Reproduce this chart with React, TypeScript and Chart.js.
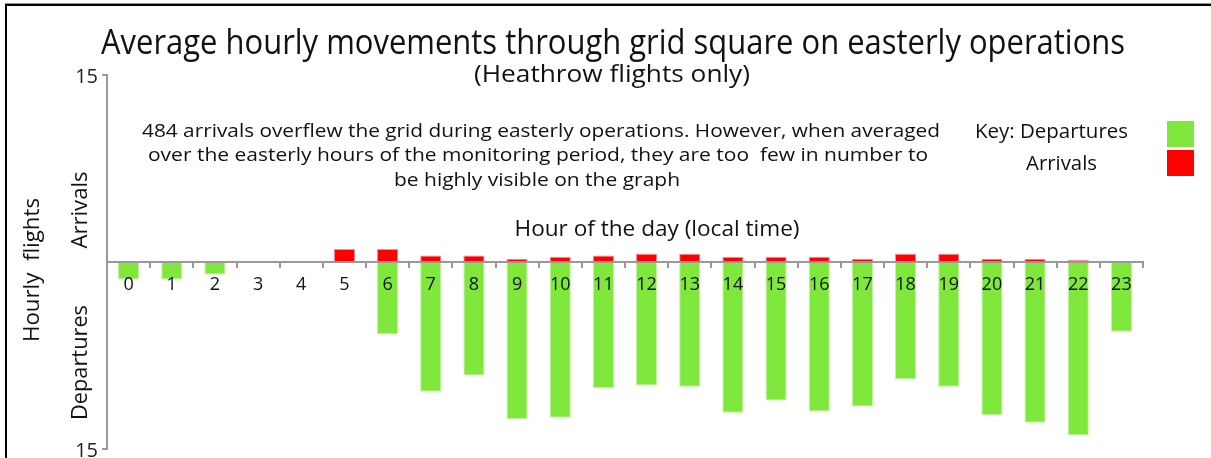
import React, { useEffect, useRef } from 'react';
import { Chart, registerables } from 'chart.js';

Chart.register(...registerables);

const hours = ['0','1','2','3','4','5','6','7','8','9','10','11','12','13','14','15','16','17','18','19','20','21','22','23'];
const departures = [1.4, 1.4, 1.0, 0, 0, 0, 5.8, 10.4, 9.1, 12.6, 12.5, 10.1, 9.9, 10.0, 12.1, 11.1, 12.0, 11.6, 9.4, 10.0, 12.3, 12.9, 13.9, 5.6];
const arrivals = [0, 0, 0, 0, 0, 1.05, 1.05, 0.53, 0.53, 0.27, 0.43, 0.53, 0.67, 0.67, 0.43, 0.43, 0.43, 0.27, 0.67, 0.67, 0.27, 0.27, 0.16, 0];
const yTickValues = [-15, 15];

const titleText = 'Average hourly movements through grid square on easterly operations';
const subtitleText = '(Heathrow flights only)';
const noteLines = [
  '484 arrivals overflew the grid during easterly operations. However, when averaged',
  'over the easterly hours of the monitoring period, they are too  few in number to',
  'be highly visible on the graph',
];
const xAxisTitle = 'Hour of the day (local time)';
const yAxisTitle = 'Hourly  flights';
const upperLabel = 'Arrivals';
const lowerLabel = 'Departures';
const keyDepartures = 'Key: Departures';
const keyArrivals = 'Arrivals';

const GREEN = '#80E83C';
const RED = '#FF0000';
const FONT = '"Open Sans", "Noto Sans", sans-serif';

function fitText(ctx: CanvasRenderingContext2D, text: string, cx: number, y: number, width: number, font: string, rotate = false, baseline: CanvasTextBaseline = 'alphabetic') {
  ctx.save();
  ctx.font = font;
  ctx.textAlign = 'center';
  ctx.textBaseline = baseline;
  const w = ctx.measureText(text).width;
  ctx.translate(cx, y);
  if (rotate) ctx.rotate(-Math.PI / 2);
  ctx.scale(width / w, 1);
  ctx.fillText(text, 0, 0);
  ctx.restore();
}

const decorPlugin = {
  id: 'decor',
  afterDraw(chart: any) {
    const ctx: CanvasRenderingContext2D = chart.ctx;
    ctx.save();
    // frame
    ctx.fillStyle = '#888';
    ctx.fillRect(5, 3, 1206, 1);
    ctx.fillStyle = '#000';
    ctx.fillRect(5, 4, 1206, 2);
    ctx.fillRect(5, 4, 2, 454);

    ctx.fillStyle = '#111';
    fitText(ctx, titleText, 613, 54, 1024, `34px ${FONT}`);
    fitText(ctx, subtitleText, 612, 82, 276, `24px ${FONT}`);

    const noteBaselines = [136.5, 161, 185.5];
    const noteWidths = [798, 780, 286];
    const noteCenters = [541, 538, 537];
    noteLines.forEach((t, i) => fitText(ctx, t, noteCenters[i], noteBaselines[i], noteWidths[i], `18.5px ${FONT}`));

    fitText(ctx, xAxisTitle, 657, 235.5, 285, `21px ${FONT}`);

    fitText(ctx, keyDepartures, 1051.5, 137.8, 153, `20px ${FONT}`);
    fitText(ctx, keyArrivals, 1061.5, 169.8, 71, `20px ${FONT}`);
    ctx.fillStyle = GREEN;
    ctx.fillRect(1167, 121, 27, 26);
    ctx.fillStyle = RED;
    ctx.fillRect(1167, 150, 27, 26);

    ctx.fillStyle = '#111';
    fitText(ctx, yAxisTitle, 33, 270, 144, `21px ${FONT}`, true, 'middle');
    fitText(ctx, upperLabel, 81, 210, 77, `21px ${FONT}`, true, 'middle');
    fitText(ctx, lowerLabel, 81, 362.5, 115, `21px ${FONT}`, true, 'middle');
    ctx.restore();
  },
};

export default function App() {
  const ref = useRef<HTMLCanvasElement | null>(null);
  useEffect(() => {
    if (!ref.current) return;
    const chart = new Chart(ref.current, {
      type: 'bar',
      data: {
        labels: hours,
        datasets: [
          {
            label: 'Departures',
            data: departures.map((v) => -v),
            backgroundColor: GREEN,
            borderColor: 'rgba(190,245,160,1)',
            borderWidth: 1,
            barPercentage: 0.49,
            categoryPercentage: 1,
          },
          {
            label: 'Arrivals',
            data: arrivals,
            backgroundColor: RED,
            borderColor: 'rgba(255,140,140,1)',
            borderWidth: 1,
            barPercentage: 0.49,
            categoryPercentage: 1,
          },
        ],
      },
      options: {
        responsive: false,
        animation: false,
        layout: { padding: { left: 67, top: 75, right: 68, bottom: 9 } },
        plugins: { legend: { display: false }, tooltip: { enabled: false }, title: { display: false } },
        scales: {
          x: {
            stacked: true,
            position: { y: 0 } as any,
            offset: true,
            grid: { offset: true, drawOnChartArea: false, drawTicks: true, tickLength: 5, color: '#999', lineWidth: 2, z: 1 },
            border: { display: true, color: '#999', width: 2, z: 1 },
            ticks: { color: '#111', font: { family: FONT, size: 18 }, padding: 7, maxRotation: 0, autoSkip: false, z: 2 },
          },
          y: {
            stacked: true,
            min: -15,
            max: 15,
            afterBuildTicks: (scale: any) => {
              scale.ticks = yTickValues.map((v) => ({ value: v }));
            },
            afterFit: (scale: any) => {
              scale.width = 40;
              scale.paddingTop = 0;
              scale.paddingBottom = 0;
            },
            grid: { drawOnChartArea: false, drawTicks: true, tickLength: 5, color: '#999', lineWidth: 2 },
            border: { display: true, color: '#999', width: 2 },
            ticks: {
              color: '#222',
              font: { family: FONT, size: 20, lineHeight: 1 },
              padding: 4,
              labelOffset: 2,
              callback: (v: any) => String(Math.abs(Number(v))),
            },
          },
        },
      },
      plugins: [decorPlugin],
    });
    return () => chart.destroy();
  }, []);
  return (
    <div style={{ position: 'fixed', left: 0, top: 0, width: 1211, height: 458, background: '#fff' }}>
      <canvas ref={ref} width={1211} height={458} style={{ width: 1211, height: 458, display: 'block' }} />
    </div>
  );
}
